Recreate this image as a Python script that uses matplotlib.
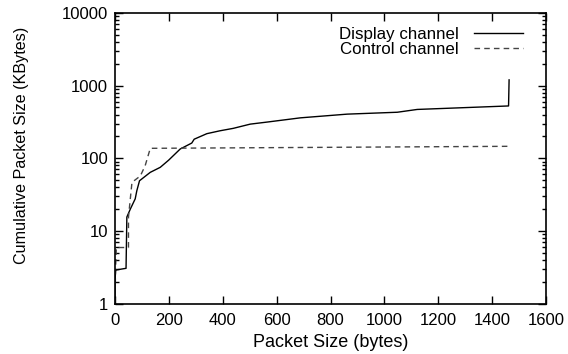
import matplotlib
matplotlib.use("Agg")
import matplotlib.pyplot as plt
from matplotlib.ticker import FixedLocator, LogLocator, NullFormatter

plt.rcParams['font.family'] = ['Liberation Sans', 'DejaVu Sans']

# cumulative packet size (KBytes) vs packet size (bytes)
display_x = [0, 0, 2, 5, 41, 44, 57, 75, 81, 91, 131, 168, 199, 242, 285, 294,
             341, 390, 439, 502, 565, 688, 862, 1048, 1122, 1461, 1463]
display_y = [1, 2.0, 2.8, 2.9, 3.05, 15.5, 20, 27.6, 35.7, 49, 64, 75, 94, 134, 162, 183,
             218, 239, 258, 295, 315, 360, 405, 430, 470, 525, 1200]

control_x = [0, 2, 5, 50, 50, 63, 94, 112, 131, 1461]
control_y = [1, 3, 5.9, 5.9, 15.5, 46.6, 57, 79, 137, 146]

fig = plt.figure(figsize=(5.68, 3.54), dpi=100)
ax = fig.add_axes([115 / 568, 50.5 / 354, 431 / 568, 290.5 / 354])

ax.plot(display_x, display_y, color='black', linewidth=1.0, label='Display channel')
ax.plot(control_x, control_y, color='#444444', linewidth=1.0, linestyle=(0, (4, 3)),
        label='Control channel')

ax.set_yscale('log')
ax.set_xlim(0, 1600)
ax.set_ylim(1, 10000)
ax.xaxis.set_major_locator(FixedLocator(range(0, 1601, 200)))
ax.yaxis.set_major_locator(FixedLocator([1, 10, 100, 1000, 10000]))
ax.set_yticklabels(['1', '10', '100', '1000', '10000'])
ax.yaxis.set_minor_locator(LogLocator(base=10, subs=range(2, 10)))
ax.yaxis.set_minor_formatter(NullFormatter())

ax.tick_params(which='both', direction='in', top=True, right=True, labelsize=12)
ax.tick_params(which='major', length=6, width=1, pad=5)
ax.tick_params(which='minor', length=3, width=1)
ax.tick_params(axis='x', pad=7)
for s in ax.spines.values():
    s.set_linewidth(1.2)

ax.set_xlabel('Packet Size (bytes)', fontsize=13)
ax.xaxis.set_label_coords(0.5, -0.105)
ax.set_ylabel('Cumulative Packet Size (KBytes)', fontsize=11.6)
ax.yaxis.set_label_coords(-0.2, 0.544)

ax.legend(loc='upper right', bbox_to_anchor=(0.9466, 0.952), frameon=False,
          markerfirst=False, fontsize=12.2, handlelength=2.9, handletextpad=0.9,
          labelspacing=0.0, borderpad=0, borderaxespad=0)

fig.savefig('out.png', dpi=100)
